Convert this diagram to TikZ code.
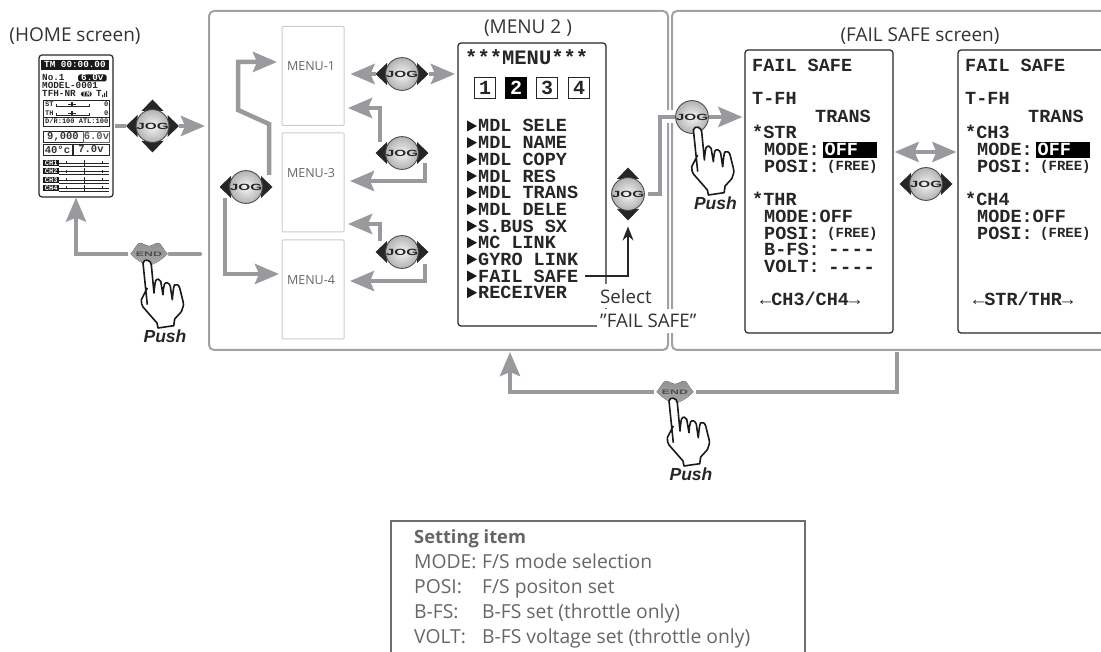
\documentclass[tikz,border=0pt]{standalone}
\usepackage{fontspec}
\setmainfont{Open Sans}
\newfontfamily\lcdfont{Liberation Mono}
\newfontfamily\pushfont{Liberation Sans}
\usetikzlibrary{arrows.meta, calc}

\definecolor{armgray}{HTML}{9A9A9E}
\definecolor{panelgray}{HTML}{A2A2A4}
\definecolor{tablegray}{HTML}{6E6E6E}
\definecolor{itemgray}{HTML}{666666}

\tikzset{
	panelbox/.style={draw=panelgray, line width=2pt, rounded corners=5pt, inner sep=0pt},
	menubox/.style={draw=gray!40, line width=1pt, rounded corners=1pt, inner sep=0pt, minimum width=62pt, minimum height=99pt},
	menutext/.style={inner sep=0pt, text=black!60, font=\fontsize{12.5}{14}\selectfont},
	screenbox/.style={draw=black!85, line width=1.2pt, rounded corners=3pt, inner sep=0pt, fill=white},
	caption/.style={inner sep=0pt, font=\fontsize{19}{22}\selectfont, text=black!80},
	arm/.style={draw=armgray, line width=4.5pt},
	armhead/.style={arm, -{Stealth[length=24pt, width=20pt, inset=4pt]}},
	lcd/.style={inner sep=0pt, anchor=west, text height=12pt, text depth=0pt, text=black!85, font=\lcdfont\bfseries\fontsize{18.5}{20}\selectfont},
	lcdsmall/.style={inner sep=0pt, anchor=west, text height=9pt, text depth=0pt, text=black!85, font=\lcdfont\bfseries\fontsize{14}{14}\selectfont},
	lcdtiny/.style={inner sep=0pt, anchor=west, text height=6pt, text depth=0pt, text=black!85, font=\lcdfont\bfseries\fontsize{9.3}{10}\selectfont},
	lcdmini/.style={inner sep=0pt, anchor=west, text height=5pt, text depth=0pt, text=black!85, font=\lcdfont\bfseries\fontsize{7}{8}\selectfont},
	homebox/.style={draw=black!85, line width=0.8pt, inner sep=0pt, minimum height=11pt, text=black!80, font=\lcdfont\bfseries\fontsize{10.5}{11}\selectfont},
	tabbox/.style={draw=black!85, line width=1.5pt, inner sep=0pt, minimum size=21pt, text=black!85, font=\lcdfont\bfseries\fontsize{20}{20}\selectfont},
	jogball/.style={circle, draw=gray!60!black, line width=0.9pt, inner color=gray!8, outer color=gray!60, minimum size=32pt, inner sep=0pt, text=black!85, font=\pushfont\bfseries\fontsize{9}{9}\selectfont},
	endlabel/.style={inner sep=0pt, minimum width=41pt, minimum height=6pt, text=black!70, font=\pushfont\bfseries\fontsize{6.5}{7}\selectfont},
	handline/.style={draw=black!90, fill=white, line width=1.6pt, line join=round},
	selecttext/.style={fill=white, inner xsep=3pt, inner ysep=2pt, anchor=west, minimum height=24pt, text=black!80, font=\fontsize{18.7}{20}\selectfont},
	itemtext/.style={anchor=base west, inner sep=0pt, text=itemgray, font=\fontsize{19.3}{22}\selectfont},
	pics/jog/.style={code={
		\foreach \a in {#1} {
			\fill[black!85, rotate=\a] (15,-11) -- (26.5,0) -- (15,11) -- cycle;
		}
		\node[jogball] (-b) at (0,0) {\scalebox{1.7}[1]{JOG}};
		\coordinate (-l) at (-26.5,0);
		\coordinate (-r) at (26.5,0);
		\coordinate (-u) at (0,-26.5);
		\coordinate (-d) at (0,26.5);
	}},
	pics/endbtn/.style={code={
		\fill[top color=gray!85, middle color=gray!45, bottom color=gray!70] (-18.5,0) .. controls (-14,-5) and (-12,-11) .. (-9,-11) .. controls (-6,-11) and (-3,-8) .. (0,-8) .. controls (3,-8) and (6,-11) .. (9,-11) .. controls (12,-11) and (14,-5) .. (18.5,0) .. controls (10,8) and (4,11) .. (0,11) .. controls (-4,11) and (-10,8) .. (-18.5,0) -- cycle;
		\node[endlabel] (-b) at (0,0) {\scalebox{1.9}[1]{END}};
	}},
	pics/pushhand/.style={code={
		\path[handline] (-1.7,34) -- (-7.7,45.7) .. controls (-8,49) and (-7,51) .. (-6,53) -- (8,69) -- (9,74) -- (24.7,71.7) -- (25.7,65) .. controls (30,60) and (33,58) .. (33.3,55) .. controls (35,51) and (34.5,49) .. (34,47.3) -- (30.7,34) .. controls (30,31) and (27,29.5) .. (25.5,31) .. controls (24.5,33) and (24,38) .. (23.3,45.7) -- (21.3,32.3) .. controls (20.5,29) and (17,27.5) .. (15.5,30) .. controls (14.5,33) and (14.3,36) .. (14,40.7) -- (11.7,27.3) .. controls (11,25) and (8,24) .. (6.5,27) .. controls (5.7,31) and (5.2,35) .. (5,39) -- (2.3,10.7) .. controls (2,6) and (-5,4) .. (-6,9) -- (-1.7,50.7);
		\node[inner sep=0pt, text=black!85, font=\pushfont\bfseries\itshape\fontsize{17.5}{18}\selectfont] (-p) at (16,82) {Push};
	}},
}

\begin{document}
\begin{tikzpicture}[x=1pt, y=-1pt]
	\clip (0,0) rectangle (1101,652);
	
	% Panels
	\node[panelbox, minimum width=459pt, minimum height=339pt] (menupanel) at (438.5,180.5) {};
	\node[panelbox, minimum width=440pt, minimum height=339pt] (failpanel) at (892,180.5) {};
	
	% HOME screen
	\node[caption] (homecap) at (75,36) {(HOME screen)};
	\node[screenbox, minimum width=74pt, minimum height=142pt] (home) at (76,126) {};
	\fill[black!90] (41,60) rectangle (109,70);
	\node[lcdtiny, text=white] (hometm) at (44,65) {TM 00:00.00};
	\node[lcdtiny] (homeno) at (42,78) {No.1};
	\node[lcdtiny, fill=black!90, text=white, inner xsep=3pt, rounded corners=2pt, minimum height=7pt] (homebat) at (78,78) {6.0v};
	\node[lcdtiny] (homemdl) at (42,86) {MODEL-0001};
	\node[lcdtiny] (homenr) at (42,94) {TFH-NR};
	\node[lcdmini, fill=black!90, text=white, inner xsep=1pt, rounded corners=2pt] (hometmb) at (81,94) {TM};
	\node[lcdtiny] (homet) at (96,94) {T};
	\fill[black!85] (102,97) rectangle (103,95) (104,97) rectangle (105,93) (106,97) rectangle (107,91);
	\draw[black!85, line width=0.8pt] (43,100) rectangle (109,126) (43,117) -- (109,117);
	\node[lcdmini] (homest) at (45,104.5) {ST};
	\node[lcdmini] (hometh) at (45,113) {TH};
	\node[lcdmini] (homest0) at (104,104.5) {0};
	\node[lcdmini] (hometh0) at (104,113) {0};
	\draw[black!85, line width=0.7pt] (56,104) -- (56,106) -- (89,106) -- (89,104) (56,113) -- (56,115) -- (89,115) -- (89,113);
	\draw[black!85, line width=1.2pt] (72,102) -- (72,107.5) (68,104.5) -- (76,104.5) (72,111) -- (72,116.5) (68,113.5) -- (76,113.5);
	\node[lcdmini] (homedr) at (45,121.5) {D/R:100 ATL:100};
	\node[homebox, minimum width=40pt] (homerpm) at (63,136.5) {9,000};
	\node[homebox, draw=black!60, text=black!65, minimum width=25pt] (homev1) at (96.5,136.5) {6.0v};
	\node[homebox, minimum width=29pt] (hometemp) at (57.5,149.5) {40°c};
	\node[homebox, minimum width=36pt] (homev2) at (91,149.5) {7.0v};
	\foreach \y/\txt in {163/CH1, 171.3/CH2, 180/CH3, 188/CH4} {
		\node[lcdmini, fill=black!90, text=white, minimum width=16pt, minimum height=6pt, text height=5pt, align=center] (home\txt) at (43,\y) {\txt};
		\draw[black!85, line width=0.6pt] (59,\y) -- (109,\y) (84,\y-3) -- (84,\y+3) (66,\y-1.5) -- (66,\y+1.5) (102,\y-1.5) -- (102,\y+1.5) (59,\y+3) -- (109,\y+3);
	}
	
	% HOME to MENU arms
	\pic (jhome) at (152.5,126) {jog={0,90,180,270}};
	\draw[arm] (home.east) ++(1,0) -- (jhome-l);
	\draw[armhead, shorten >=3pt] (jhome-r) -- (menupanel.west |- jhome-r);
	
	% MENU 1, 3, 4
	\node[menubox] (menu1) at (313,76) {};
	\node[menubox] (menu3) at (313,182.5) {};
	\node[menubox] (menu4) at (313,289.5) {};
	\node[menutext] (menu1txt) at (311,66) {MENU-1};
	\node[menutext] (menu3txt) at (311,173) {MENU-3};
	\node[menutext] (menu4txt) at (311,280) {MENU-4};
	
	\pic (jleft) at (246,187) {jog={0,180}};
	\pic (jtop) at (402,74) {jog={0,180}};
	\pic (jmid) at (402,153) {jog={0,180}};
	\pic (jlow) at (402,252) {jog={0,180}};
	
	\coordinate (upstart) at (269,175);
	\coordinate (upbend) at (269,124);
	\coordinate (upleft) at (238,110);
	\coordinate (upend) at (277,62);
	\coordinate (downstart) at (225,198);
	\coordinate (downend) at (279,274);
	\draw[armhead] (upstart) -- (upbend) -- (upleft) |- (upend);
	\draw[armhead] (downstart) |- (downend);
	
	\draw[armhead, shorten >=6pt] (jtop-l) -- (menu1.east |- jtop-l);
	\draw[armhead, shorten >=3pt] (jtop-r) -- (458,74);
	
	\coordinate (m1up) at (380,142);
	\coordinate (m1tip) at (348,108);
	\coordinate (m3dn) at (425,163);
	\coordinate (m3tip) at (350,181);
	\coordinate (m3up) at (380,241);
	\coordinate (m3uptip) at (348,224);
	\coordinate (m4dn) at (425,264);
	\coordinate (m4tip) at (350,281);
	\draw[armhead] (m1up) |- (m1tip);
	\draw[armhead] (m3dn) |- (m3tip);
	\draw[armhead] (m3up) |- (m3uptip);
	\draw[armhead] (m4dn) |- (m4tip);
	
	% MENU 2 screen
	\node[caption] (menu2cap) at (528,28) {(MENU 2 )};
	\node[screenbox, minimum width=148pt, minimum height=283pt] (menu2) at (532,184.5) {};
	\node[lcd, font=\lcdfont\bfseries\fontsize{20.5}{22}\selectfont] (menu2title) at (465,59) {***MENU***};
	\foreach \x/\n in {485/1, 547/3, 579/4} {
		\node[tabbox] (tab\n) at (\x,88) {\n};
	}
	\node[tabbox, draw=black, fill=black, text=white] (tab2) at (516,88) {2};
	\foreach \txt [count=\i] in {MDL  SELE, MDL  NAME, MDL  COPY, MDL  RES, MDL  TRANS, MDL  DELE, S.BUS  SX, MC  LINK, GYRO  LINK, FAIL  SAFE, RECEIVER} {
		\pgfmathsetmacro{\yy}{126+(\i-1)*16.67}
		\fill[black!90] (467,\yy-5.5) -- (477,\yy) -- (467,\yy+5.5) -- cycle;
		\node[lcd] (item\i) at (478,\yy) {\obeyspaces\txt};
	}
	
	% Select label
	\node[selecttext] (select1) at (597,296) {Select};
	\node[selecttext] (select2) at (597,321) {"FAIL SAFE"};
	
	% Jog to FAIL SAFE
	\pic (jpick) at (628,194) {jog={90,270}};
	\draw[black!85, line width=1.5pt, -{Stealth[length=14pt, width=11pt]}, shorten <=7pt, shorten >=6pt] (item10.east) -| (jpick-d);
	\coordinate (pickbend) at (660,117);
	\draw[white, line width=13pt] (660,117) -- (676,117);
	\pic (jpush) at (692,117) {jog={}};
	\draw[arm, shorten <=3pt] (jpick-b.east) -| (pickbend) -- (jpush-b.west);
	\pic (hand1) at (699.4,121) {pushhand};
	
	% FAIL SAFE screens
	\node[caption] (failcap) at (920,36) {(FAIL SAFE screen)};
	\node[screenbox, minimum width=148pt, minimum height=283pt] (faila) at (819,191.5) {};
	\node[screenbox, minimum width=148pt, minimum height=283pt] (failb) at (1032,191.5) {};
	\draw[armhead, shorten >=2pt] (jpush-b.east) -- (faila.west |- jpush-b);
	
	\foreach \x/\y/\txt [count=\i] in {752/66/FAIL  SAFE, 752/99/T-FH, 815/116.7/TRANS, 752/133/*STR, 764/149.7/MODE:, 764/166.4/POSI:, 752/200/*THR, 764/216.7/MODE:OFF, 764/233.4/POSI:, 764/250/B-FS:, 764/266.7/VOLT:, 760/300/{←CH3/CH4→}} {
		\node[lcd] (faila\i) at (\x,\y) {\obeyspaces\txt};
	}
	\foreach \y [count=\i] in {166.4,233.4} {
		\node[lcdsmall] (freea\i) at (827,\y) {(FREE)};
	}
	\foreach \y [count=\i] in {250,267.5} {
		\node[lcd, font=\lcdfont\bfseries\fontsize{19.5}{20}\selectfont] (dasha\i) at (828,\y) {-{}-{}-{}-};
	}
	\node[lcd, fill=black, text=white, minimum width=54pt, minimum height=16pt, text width=51pt, inner xsep=1.5pt, align=left] (offa) at (823,149.7) {OFF};
	
	\foreach \x/\y/\txt [count=\i] in {965/66/FAIL  SAFE, 965/99/T-FH, 1028/116.7/TRANS, 965/133/*CH3, 977/149.7/MODE:, 977/166.4/POSI:, 965/200/*CH4, 977/216.7/MODE:OFF, 977/233.4/POSI:, 973/300/{←STR/THR→}} {
		\node[lcd] (failb\i) at (\x,\y) {\obeyspaces\txt};
	}
	\foreach \y [count=\i] in {166.4,233.4} {
		\node[lcdsmall] (freeb\i) at (1040,\y) {(FREE)};
	}
	\node[lcd, fill=black, text=white, minimum width=54pt, minimum height=16pt, text width=51pt, inner xsep=1.5pt, align=left] (offb) at (1036,149.7) {OFF};
	
	\draw[arm, {Stealth[length=24pt, width=20pt, inset=4pt]}-{Stealth[length=24pt, width=20pt, inset=4pt]}, shorten <=1pt, shorten >=1pt] (faila.east |- 0,152) -- (failb.west |- 0,152);
	\pic (jswap) at (926,184) {jog={0,180}};
	
	% END on HOME side
	\pic (endh) at (149,254) {endbtn};
	\coordinate (endhstub) at (200,254);
	\draw[arm, line cap=round] (endhstub) -- (endh-b.east);
	\draw[armhead] (endh-b.west) -| (home.south);
	\pic (hand2) at (149,254) {pushhand};
	
	% END under panels
	\pic (endf) at (675,392) {endbtn};
	\coordinate (endfstart) at (897,352);
	\coordinate (endftip) at (510,352);
	\draw[arm] (endfstart) |- (endf-b.east);
	\draw[armhead] (endf-b.west) -| (endftip);
	\pic (hand3) at (675,392) {pushhand};
	
	% Setting item table
	\draw[draw=tablegray, line width=2pt] (391,652) |- (805,521) -- (805,652);
	\node[itemtext, font=\bfseries\fontsize{18.3}{22}\selectfont] (tablehead) at (414,543) {Setting item};
	\foreach \y/\key/\val [count=\i] in {568/MODE:/F{/}S mode selection, 593/POSI:/F{/}S positon set, 618/B-FS:/B-FS set (throttle only), 643/VOLT:/B-FS voltage set (throttle only)} {
		\node[itemtext] (key\i) at (414,\y) {\key};
		\node[itemtext] (val\i) at (482,\y) {\val};
	}
	
\end{tikzpicture}
\end{document}
